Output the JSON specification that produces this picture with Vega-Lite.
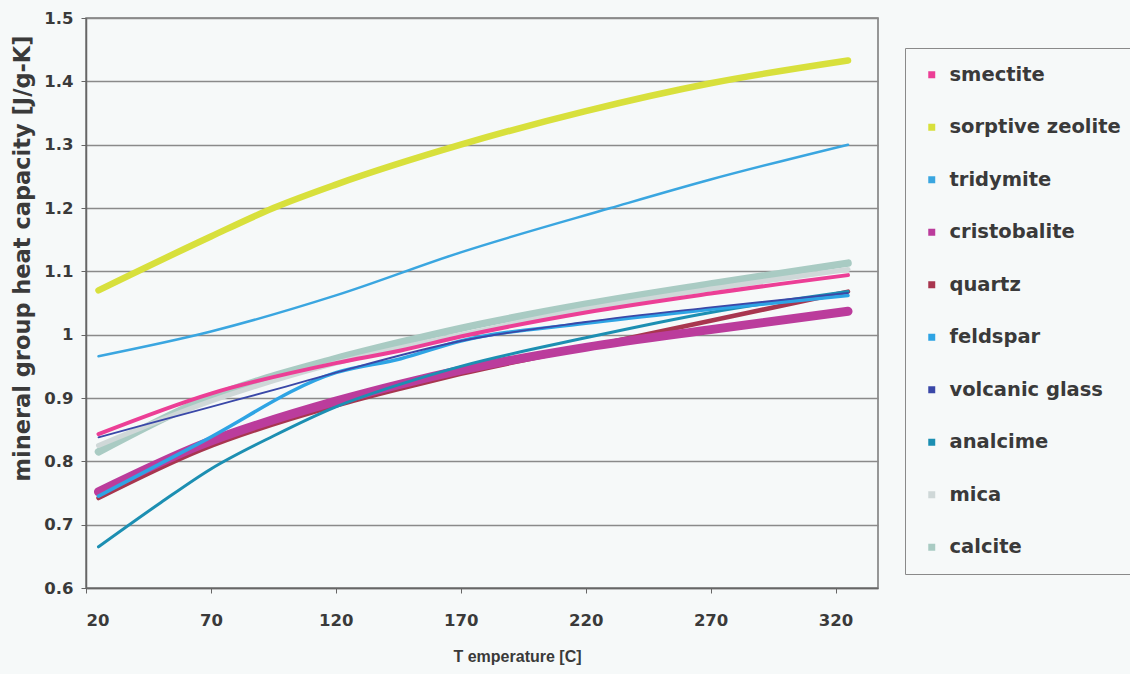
{
  "$schema": "https://vega.github.io/schema/vega-lite/v6.json",
  "width": 792,
  "height": 570,
  "autosize": {"type": "none"},
  "padding": {"left": 86, "top": 18, "right": 252, "bottom": 86},
  "background": "#f6f9f9",
  "config": {
    "view": {"stroke": "#777", "strokeWidth": 1.5, "fill": "#f6f9f9"},
    "axis": {"labelFont": "DejaVu Sans", "labelFontWeight": "bold", "labelFontSize": 16.5, "labelColor": "#3a3a3a", "titleColor": "#3a3a3a", "domainColor": "#666", "domainWidth": 1.5, "tickColor": "#666", "tickSize": 5},
    "line": {"interpolate": "monotone", "strokeCap": "round"}
  },
  "data": {"values": [
    {"m": "calcite", "T": 25, "c": 0.815}, {"m": "calcite", "T": 66, "c": 0.895}, {"m": "calcite", "T": 120, "c": 0.962}, {"m": "calcite", "T": 146, "c": 0.988}, {"m": "calcite", "T": 170, "c": 1.01}, {"m": "calcite", "T": 220, "c": 1.048}, {"m": "calcite", "T": 270, "c": 1.08}, {"m": "calcite", "T": 325, "c": 1.113},
    {"m": "mica", "T": 25, "c": 0.825}, {"m": "mica", "T": 70, "c": 0.895}, {"m": "mica", "T": 120, "c": 0.955}, {"m": "mica", "T": 170, "c": 1.0}, {"m": "mica", "T": 220, "c": 1.04}, {"m": "mica", "T": 270, "c": 1.072}, {"m": "mica", "T": 325, "c": 1.103},
    {"m": "quartz", "T": 25, "c": 0.742}, {"m": "quartz", "T": 66, "c": 0.818}, {"m": "quartz", "T": 120, "c": 0.888}, {"m": "quartz", "T": 146, "c": 0.915}, {"m": "quartz", "T": 170, "c": 0.938}, {"m": "quartz", "T": 220, "c": 0.98}, {"m": "quartz", "T": 270, "c": 1.022}, {"m": "quartz", "T": 325, "c": 1.068},
    {"m": "cristobalite", "T": 25, "c": 0.752}, {"m": "cristobalite", "T": 66, "c": 0.826}, {"m": "cristobalite", "T": 120, "c": 0.895}, {"m": "cristobalite", "T": 146, "c": 0.922}, {"m": "cristobalite", "T": 170, "c": 0.944}, {"m": "cristobalite", "T": 220, "c": 0.98}, {"m": "cristobalite", "T": 270, "c": 1.008}, {"m": "cristobalite", "T": 325, "c": 1.037},
    {"m": "sorptive zeolite", "T": 25, "c": 1.07}, {"m": "sorptive zeolite", "T": 70, "c": 1.155}, {"m": "sorptive zeolite", "T": 95, "c": 1.2}, {"m": "sorptive zeolite", "T": 120, "c": 1.237}, {"m": "sorptive zeolite", "T": 170, "c": 1.3}, {"m": "sorptive zeolite", "T": 220, "c": 1.353}, {"m": "sorptive zeolite", "T": 270, "c": 1.397}, {"m": "sorptive zeolite", "T": 325, "c": 1.433},
    {"m": "smectite", "T": 25, "c": 0.843}, {"m": "smectite", "T": 70, "c": 0.907}, {"m": "smectite", "T": 120, "c": 0.955}, {"m": "smectite", "T": 146, "c": 0.975}, {"m": "smectite", "T": 170, "c": 0.997}, {"m": "smectite", "T": 220, "c": 1.035}, {"m": "smectite", "T": 270, "c": 1.065}, {"m": "smectite", "T": 325, "c": 1.094},
    {"m": "tridymite", "T": 25, "c": 0.966}, {"m": "tridymite", "T": 70, "c": 1.005}, {"m": "tridymite", "T": 120, "c": 1.062}, {"m": "tridymite", "T": 170, "c": 1.13}, {"m": "tridymite", "T": 230, "c": 1.2}, {"m": "tridymite", "T": 270, "c": 1.245}, {"m": "tridymite", "T": 325, "c": 1.3},
    {"m": "analcime", "T": 25, "c": 0.665}, {"m": "analcime", "T": 50, "c": 0.735}, {"m": "analcime", "T": 70, "c": 0.788}, {"m": "analcime", "T": 95, "c": 0.84}, {"m": "analcime", "T": 120, "c": 0.886}, {"m": "analcime", "T": 146, "c": 0.922}, {"m": "analcime", "T": 170, "c": 0.95}, {"m": "analcime", "T": 220, "c": 0.995}, {"m": "analcime", "T": 270, "c": 1.035}, {"m": "analcime", "T": 325, "c": 1.068},
    {"m": "feldspar", "T": 25, "c": 0.745}, {"m": "feldspar", "T": 66, "c": 0.83}, {"m": "feldspar", "T": 120, "c": 0.94}, {"m": "feldspar", "T": 146, "c": 0.962}, {"m": "feldspar", "T": 170, "c": 0.99}, {"m": "feldspar", "T": 220, "c": 1.018}, {"m": "feldspar", "T": 270, "c": 1.04}, {"m": "feldspar", "T": 325, "c": 1.062},
    {"m": "volcanic glass", "T": 25, "c": 0.838}, {"m": "volcanic glass", "T": 70, "c": 0.886}, {"m": "volcanic glass", "T": 100, "c": 0.918}, {"m": "volcanic glass", "T": 120, "c": 0.94}, {"m": "volcanic glass", "T": 170, "c": 0.99}, {"m": "volcanic glass", "T": 220, "c": 1.02}, {"m": "volcanic glass", "T": 270, "c": 1.043}, {"m": "volcanic glass", "T": 325, "c": 1.066}
  ]},
  "encoding": {
    "x": {"field": "T", "type": "quantitative", "scale": {"domain": [20, 337], "nice": false, "zero": false},
      "axis": {"values": [20, 70, 120, 170, 220, 270, 320], "grid": false, "labelPadding": 19, "title": "T emperature [C]", "titleFont": "Liberation Sans", "titleFontWeight": "bold", "titleFontSize": 16, "titlePadding": 20, "titleX": 431}},
    "y": {"field": "c", "type": "quantitative", "scale": {"domain": [0.6, 1.5], "nice": false, "zero": false},
      "axis": {"values": [0.6, 0.7, 0.8, 0.9, 1, 1.1, 1.2, 1.3, 1.4, 1.5], "format": "~g", "grid": true, "gridColor": "#8a8a8a", "gridWidth": 1.3, "labelPadding": 8, "title": "mineral group heat capacity [J/g-K]", "titleFont": "DejaVu Sans", "titleFontWeight": "bold", "titleFontSize": 22.5, "titleX": -52, "titleY": 240}},
    "color": {"field": "m", "type": "nominal",
      "scale": {"domain": ["smectite", "sorptive zeolite", "tridymite", "cristobalite", "quartz", "feldspar", "volcanic glass", "analcime", "mica", "calcite"],
        "range": ["#ec3f96", "#d8e03c", "#3aa6e0", "#bb3c9c", "#a8364f", "#2ea4e4", "#3a48a8", "#1c8fb2", "#cfd8d8", "#a9cbc3"]},
      "legend": {"title": null, "orient": "none", "legendX": 819, "legendY": 30, "strokeColor": "#8a8a8a", "fillColor": "#f6f9f9", "padding": 17, "rowPadding": 31.5, "labelFont": "DejaVu Sans", "labelFontWeight": "bold", "labelFontSize": 19.5, "labelColor": "#3a3a3a", "labelOffset": 8, "symbolSize": 30, "symbolType": "square", "labelLimit": 300,
        "encode": {"symbols": {"update": {"shape": {"value": "square"}, "fill": {"scale": "color", "field": "value"}, "stroke": {"value": "transparent"}}}}}}
  },
  "layer": [
    {"transform": [{"filter": {"field": "m", "equal": "calcite"}}], "mark": {"type": "line", "strokeWidth": 7.5}},
    {"transform": [{"filter": {"field": "m", "equal": "mica"}}], "mark": {"type": "line", "strokeWidth": 5}},
    {"transform": [{"filter": {"field": "m", "equal": "quartz"}}], "mark": {"type": "line", "strokeWidth": 4.5}},
    {"transform": [{"filter": {"field": "m", "equal": "cristobalite"}}], "mark": {"type": "line", "strokeWidth": 9}},
    {"transform": [{"filter": {"field": "m", "equal": "sorptive zeolite"}}], "mark": {"type": "line", "strokeWidth": 6.5}},
    {"transform": [{"filter": {"field": "m", "equal": "smectite"}}], "mark": {"type": "line", "strokeWidth": 4}},
    {"transform": [{"filter": {"field": "m", "equal": "tridymite"}}], "mark": {"type": "line", "strokeWidth": 2.5}},
    {"transform": [{"filter": {"field": "m", "equal": "analcime"}}], "mark": {"type": "line", "strokeWidth": 3}},
    {"transform": [{"filter": {"field": "m", "equal": "feldspar"}}], "mark": {"type": "line", "strokeWidth": 3.5}},
    {"transform": [{"filter": {"field": "m", "equal": "volcanic glass"}}], "mark": {"type": "line", "strokeWidth": 1.8}}
  ]
}
